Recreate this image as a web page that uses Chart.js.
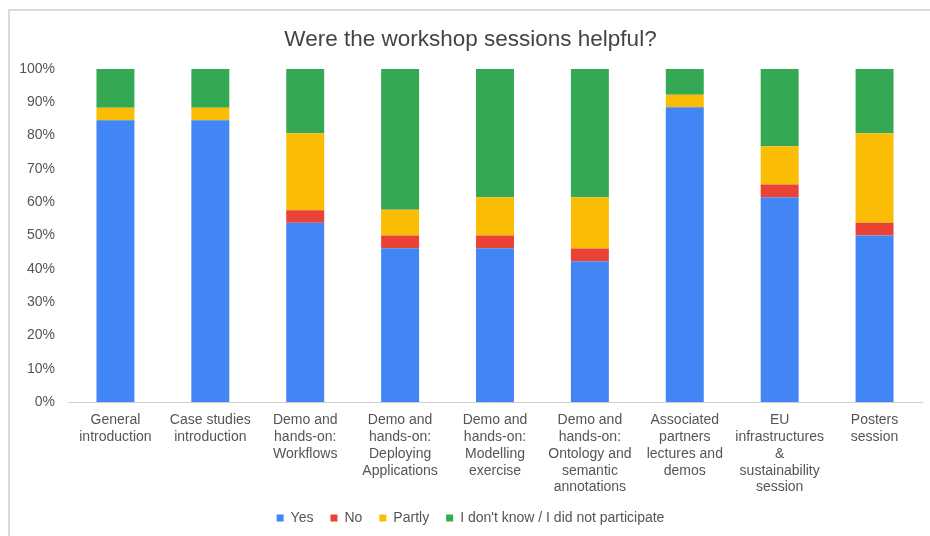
<!DOCTYPE html>
<html>
<head>
<meta charset="utf-8">
<script src="https://cdn.jsdelivr.net/npm/chart.js@4/dist/chart.umd.min.js"></script>
<style>
  html, body { margin: 0; padding: 0; background: #fff; overflow: hidden; width: 930px; height: 536px; }
  #frame { position: absolute; left: 8px; top: 9px; width: 940px; height: 540px; border-left: 2px solid #dadada; border-top: 2px solid #dadada; }
  #wrap { position: absolute; left: 9px; top: 10px; width: 930px; height: 526px; }
</style>
</head>
<body>
<div id="frame"></div>
<div id="wrap"><canvas id="c" width="930" height="526"></canvas></div>
<script>
const categories = [
  ["General", "introduction"],
  ["Case studies", "introduction"],
  ["Demo and", "hands-on:", "Workflows"],
  ["Demo and", "hands-on:", "Deploying", "Applications"],
  ["Demo and", "hands-on:", "Modelling", "exercise"],
  ["Demo and", "hands-on:", "Ontology and", "semantic", "annotations"],
  ["Associated", "partners", "lectures and", "demos"],
  ["EU", "infrastructures", "&", "sustainability", "session"],
  ["Posters", "session"]
];
const seriesNames = ["Yes", "No", "Partly", "I don't know / I did not participate"];
const yesValues     = [84.6, 84.6, 53.8, 46.2, 46.2, 42.3, 88.5, 61.5, 50.0];
const noValues      = [0, 0, 3.8, 3.8, 3.8, 3.8, 0, 3.8, 3.8];
const partlyValues  = [3.8, 3.8, 23.1, 7.7, 11.5, 15.4, 3.8, 11.5, 26.9];
const dontKnowValues = [11.6, 11.6, 19.3, 42.3, 38.5, 38.5, 7.7, 23.2, 19.3];
const yTickValues = [0, 10, 20, 30, 40, 50, 60, 70, 80, 90, 100];

const colors = ["#4285F4", "#EA4335", "#FBBC04", "#34A853"];
const FONT = "'Liberation Sans', Arial, sans-serif";

const data = {
  labels: categories,
  datasets: [yesValues, noValues, partlyValues, dontKnowValues].map((vals, i) => ({
    label: seriesNames[i],
    data: vals,
    backgroundColor: colors[i],
    borderWidth: 0,
    barPercentage: 0.4,
    categoryPercentage: 1.0
  }))
};

new Chart(document.getElementById('c'), {
  type: 'bar',
  data: data,
  options: {
    responsive: false,
    animation: false,
    devicePixelRatio: 1,
    layout: { padding: { left: 10, right: 17, top: 0, bottom: 1 } },
    plugins: {
      title: {
        display: true,
        text: 'Were the workshop sessions helpful?',
        color: '#444',
        font: { family: FONT, size: 22.5, weight: 'normal' },
        padding: { top: 16, bottom: 16 }
      },
      legend: {
        position: 'bottom',
        labels: {
          color: '#555',
          font: { family: FONT, size: 14 },
          boxWidth: 7,
          boxHeight: 7,
          padding: 17
        }
      },
      tooltip: { enabled: false }
    },
    scales: {
      x: {
        stacked: true,
        grid: { display: false, drawTicks: false },
        border: { display: true, color: '#d0d0d0', width: 1 },
        afterFit: (axis) => { axis.height = 92; },
        ticks: {
          color: '#555',
          font: { family: FONT, size: 14, lineHeight: 1.2 },
          padding: 10,
          autoSkip: false,
          maxRotation: 0,
          minRotation: 0
        }
      },
      y: {
        stacked: true,
        min: 0,
        max: 100,
        grid: { display: false, drawTicks: false },
        border: { display: false },
        afterBuildTicks: (axis) => { axis.ticks = yTickValues.map(v => ({ value: v })); },
        afterFit: (axis) => { axis.width = 49; },
        ticks: {
          color: '#555',
          font: { family: FONT, size: 14 },
          padding: 13,
          callback: (v) => v + '%'
        }
      }
    }
  }
});
</script>
</body>
</html>
